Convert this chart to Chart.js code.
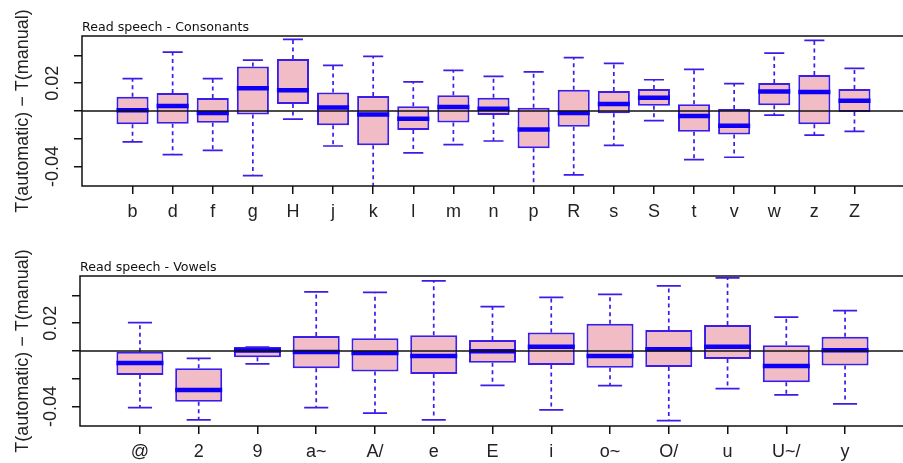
<!DOCTYPE html>
<html><head><meta charset="utf-8">
<script src="https://cdn.jsdelivr.net/npm/chart.js@4.4.1/dist/chart.umd.min.js"></script>
<style>
html,body{margin:0;padding:0;background:#fff;overflow:hidden;width:903px;height:463px;position:relative;}
canvas{position:absolute;left:0;}
#c1{top:0;}
#c2{top:231px;}
</style></head><body>
<canvas id="c1" width="910" height="231"></canvas>
<canvas id="c2" width="910" height="232"></canvas>
<script>
// ---------- data ----------
const consonantLabels = ['b','d','f','g','H','j','k','l','m','n','p','R','s','S','t','v','w','z','Z'];
const consonantUpper  = [0.0233,0.0424,0.0233,0.0367,0.0516,0.0329,0.0393,0.0209,0.0293,0.0249,0.0281,0.0384,0.0343,0.0225,0.0300,0.0197,0.0417,0.0508,0.0307];
const consonantQ3     = [0.0103,0.0129,0.0094,0.0321,0.0374,0.0134,0.0108,0.0034,0.0113,0.0096,0.0024,0.0153,0.0144,0.0158,0.0048,0.0014,0.0201,0.0259,0.0158];
const consonantMedian = [0.0005,0.0036,-0.0014,0.0163,0.0149,0.0026,-0.0026,-0.0055,0.0029,0.0017,-0.0134,-0.0014,0.0050,0.0096,-0.0036,-0.0106,0.0141,0.0137,0.0074];
const consonantQ1     = [-0.0096,-0.0091,-0.0084,-0.0026,0.0050,-0.0103,-0.0247,-0.0137,-0.0082,-0.0029,-0.0269,-0.0113,-0.0017,0.0038,-0.0149,-0.0170,0.0041,-0.0096,-0.0007];
const consonantLower  = [-0.0223,-0.0314,-0.0283,-0.0465,-0.0058,-0.0252,-0.0580,-0.0302,-0.0242,-0.0216,-0.0570,-0.0460,-0.0247,-0.0070,-0.0350,-0.0333,-0.0029,-0.0173,-0.0146];

const vowelLabels = ['@','2','9','a~','A/','e','E','i','o~','O/','u','U~/','y'];
const vowelUpper  = [0.0204,-0.0053,0.0028,0.0426,0.0422,0.0505,0.0319,0.0386,0.0407,0.0469,0.0527,0.0244,0.0290];
const vowelQ3     = [-0.0005,-0.0125,0.0028,0.0108,0.0091,0.0113,0.0079,0.0134,0.0196,0.0151,0.0187,0.0041,0.0103];
const vowelMedian = [-0.0086,-0.0280,0.0003,-0.0007,-0.0014,-0.0036,-0.0002,0.0031,-0.0036,0.0012,0.0031,-0.0108,0.0005];
const vowelQ1     = [-0.0172,-0.0366,-0.0045,-0.0125,-0.0148,-0.0165,-0.0084,-0.0101,-0.0120,-0.0115,-0.0057,-0.0225,-0.0105];
const vowelLower  = [-0.0407,-0.0496,-0.0093,-0.0407,-0.0448,-0.0496,-0.0247,-0.0424,-0.0249,-0.0501,-0.0271,-0.0316,-0.0381];

const yTickValues = [-0.04,-0.02,0,0.02,0.04];
const yTickText   = ['-0.04','','','0.02',''];
const yLimits = [-0.054, 0.054];
const yAxisTitle = 'T(automatic) \u2212 T(manual)';

// ---------- styling ----------
const FILL = '#f1bcc6', BORDER = '#3a1de8', MEDIAN = '#0f00f5';
const TICKFONT = {family:'Liberation Sans, Arial, sans-serif', size:18};

const boxPlugin = {
  id: 'boxExtras',
  beforeDatasetsDraw(chart, args, o) {
    const {ctx, chartArea: a, scales: {x, y}} = chart;
    ctx.save();
    ctx.beginPath(); ctx.rect(a.left, a.top, a.right - a.left, a.bottom - a.top); ctx.clip();
    ctx.strokeStyle = BORDER; ctx.lineWidth = 1.7;
    o.upper.forEach((u, i) => {
      const cx = x.getPixelForValue(i + 1);
      const half = (x.getPixelForValue(i + 1 + o.cap / 2) - x.getPixelForValue(i + 1 - o.cap / 2)) / 2;
      ctx.setLineDash([4, 3.5]);
      ctx.beginPath();
      ctx.moveTo(cx, y.getPixelForValue(o.q3[i])); ctx.lineTo(cx, y.getPixelForValue(u));
      ctx.moveTo(cx, y.getPixelForValue(o.q1[i])); ctx.lineTo(cx, y.getPixelForValue(o.lower[i]));
      ctx.stroke();
      ctx.setLineDash([]);
      ctx.beginPath();
      ctx.moveTo(cx - half, y.getPixelForValue(u)); ctx.lineTo(cx + half, y.getPixelForValue(u));
      ctx.moveTo(cx - half, y.getPixelForValue(o.lower[i])); ctx.lineTo(cx + half, y.getPixelForValue(o.lower[i]));
      ctx.stroke();
    });
    ctx.restore();
  },
  afterDatasetsDraw(chart, args, o) {
    const {ctx, chartArea: a, scales: {x, y}} = chart;
    ctx.save();
    ctx.beginPath(); ctx.rect(a.left, a.top, a.right - a.left, a.bottom - a.top); ctx.clip();
    const meta = chart.getDatasetMeta(0);
    ctx.strokeStyle = MEDIAN; ctx.lineWidth = 4.5;
    meta.data.forEach((bar, i) => {
      const yy = y.getPixelForValue(o.median[i]);
      ctx.beginPath(); ctx.moveTo(bar.x - bar.width / 2, yy); ctx.lineTo(bar.x + bar.width / 2, yy); ctx.stroke();
    });
    // zero reference line
    ctx.strokeStyle = '#111'; ctx.lineWidth = 1.5;
    const y0 = y.getPixelForValue(0);
    ctx.beginPath(); ctx.moveTo(a.left, y0); ctx.lineTo(a.right, y0); ctx.stroke();
    ctx.restore();
    // frame
    ctx.save();
    ctx.strokeStyle = '#111'; ctx.lineWidth = 1.5;
    ctx.strokeRect(a.left, a.top, a.right - a.left, a.bottom - a.top);
    // panel title
    ctx.fillStyle = '#111';
    ctx.font = '12.6px "DejaVu Sans", sans-serif';
    ctx.textBaseline = 'alphabetic'; ctx.textAlign = 'left';
    ctx.fillText(o.title, a.left, a.top - 5);
    ctx.restore();
  }
};

function makePanel(id, labels, lower, q1, median, q3, upper, cfg) {
  return new Chart(document.getElementById(id), {
    type: 'bar',
    data: {
      datasets: [{
        data: labels.map((l, i) => ({x: i + 1, y: [q1[i], q3[i]]})),
        backgroundColor: FILL,
        borderColor: BORDER,
        borderWidth: 2,
        borderSkipped: false,
        barPercentage: 0.8,
        categoryPercentage: 1
      }]
    },
    options: {
      responsive: false,
      animation: false,
      devicePixelRatio: 1,
      layout: {padding: {top: cfg.padTop, right: cfg.padRight, left: 0, bottom: 0}},
      plugins: {
        legend: {display: false},
        tooltip: {enabled: false},
        boxExtras: {upper, q3, median, q1, lower, cap: cfg.cap, title: cfg.title}
      },
      scales: {
        x: {
          type: 'linear',
          offset: false,
          min: cfg.xMin, max: cfg.xMax,
          afterBuildTicks: ax => { ax.ticks = labels.map((l, i) => ({value: i + 1})); },
          afterFit: ax => { ax.height = cfg.xHeight; },
          border: {display: false},
          grid: {offset: false, drawOnChartArea: false, drawTicks: true, tickLength: 8, color: '#111', lineWidth: 1.5},
          ticks: {
            autoSkip: false, maxRotation: 0, minRotation: 0,
            font: TICKFONT, color: '#222', padding: 7,
            callback: v => labels[Math.round(v) - 1] || ''
          }
        },
        y: {
          type: 'linear',
          min: yLimits[0], max: yLimits[1],
          afterBuildTicks: ax => { ax.ticks = yTickValues.map(v => ({value: v})); },
          afterFit: ax => { ax.width = cfg.yWidth; },
          border: {display: false},
          grid: {drawOnChartArea: false, drawTicks: true, tickLength: 8, color: '#111', lineWidth: 1.5},
          ticks: {
            autoSkip: false, minRotation: 90, maxRotation: 90, crossAlign: 'center',
            font: TICKFONT, color: '#222', padding: cfg.yTickPad,
            callback: (v, i) => yTickText[i]
          },
          title: {
            display: true, text: yAxisTitle, color: '#222',
            font: {family: 'Liberation Sans, Arial, sans-serif', size: 18},
            padding: {top: 12, bottom: 0}
          }
        }
      }
    },
    plugins: [boxPlugin]
  });
}

makePanel('c1', consonantLabels, consonantLower, consonantQ1, consonantMedian, consonantQ3, consonantUpper,
  {title: 'Read speech - Consonants', xMin: -0.26, xMax: 20.26, padTop: 36, padRight: 5, xHeight: 45, yWidth: 82, cap: 0.5, yTickPad: 0});
makePanel('c2', vowelLabels, vowelLower, vowelQ1, vowelMedian, vowelQ3, vowelUpper,
  {title: 'Read speech - Vowels', xMin: -0.02, xMax: 14.02, padTop: 45, padRight: 5, xHeight: 37, yWidth: 80, cap: 0.41, yTickPad: 0});
</script>
</body></html>
